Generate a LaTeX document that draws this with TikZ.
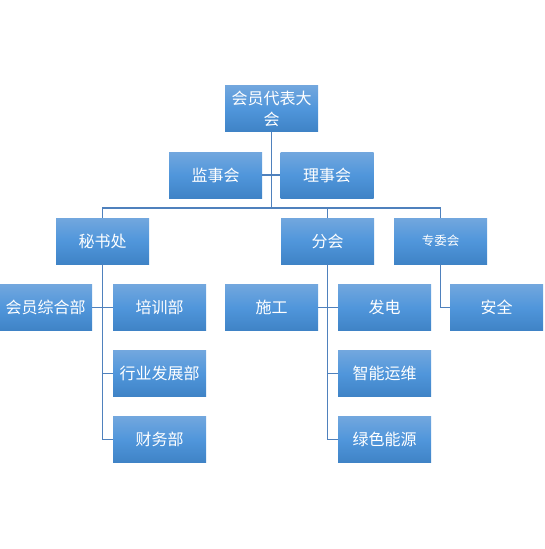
\documentclass[tikz,border=0pt]{standalone}
\usepackage{fontspec}
\newfontfamily\cjk{Noto Sans CJK SC}
\usepackage{xcolor}
\definecolor{boxtop}{HTML}{72A7DE}
\definecolor{boxmid}{HTML}{5096DB}
\definecolor{boxbot}{HTML}{3F83C6}
\definecolor{wire}{HTML}{4F81BD}
\usetikzlibrary{calc}
\tikzset{
  orgbox/.style ={top color=boxtop,bottom color=boxbot,middle color=boxmid,
                  draw=none,text=white,minimum width=93pt,minimum height=46pt,
                  inner sep=0pt,align=center,
                  font=\cjk\fontsize{16}{21}\selectfont},
  smallbox/.style={orgbox,font=\cjk\fontsize{12.5}{15}\selectfont},
  link/.style   ={draw=wire,line width=1.4pt},
}

\begin{document}
\begin{tikzpicture}[x=1pt,y=-1pt]
\useasboundingbox (0,0) rectangle (544,549);
% top level
\node[orgbox] (dh) at (271.5,108.5) {会员代表大\\会};
\node[orgbox] (jsh) at (215.5,175) {监事会};
\node[orgbox] (lsh) at (327,175) {理事会};
% second level
\node[orgbox] (msc) at (102.5,241) {秘书处};
\node[orgbox] (fh) at (327.5,241) {分会};
\node[smallbox] (zwh) at (440.5,241) {专委会};
% secretariat
\node[orgbox] (hyzh) at (45.5,307.5) {会员综合部};
\node[orgbox] (px) at (159.5,307.5) {培训部};
\node[orgbox] (hyfz) at (159.5,373.5) {行业发展部};
\node[orgbox] (cw) at (159.5,439.5) {财务部};
% branches
\node[orgbox] (sg) at (271.5,307.5) {施工};
\node[orgbox] (fd) at (384.5,307.5) {发电};
\node[orgbox] (znyw) at (384.5,373.5) {智能运维};
\node[orgbox] (lsny) at (384.5,439.5) {绿色能源};
% committees
\node[orgbox] (aq) at (496.5,307.5) {安全};
% connectors
\coordinate (bus) at (272,208);
\draw[link] (dh.south) -- (dh.south |- bus);
\draw[link] (jsh.east) -- (lsh.west);
\draw[link] (msc.north) -- (msc.north |- bus) -- (zwh.north |- bus) -- (zwh.north);
\draw[link] (fh.north |- bus) -- (fh.north);
\draw[link] (msc.south) -- (msc.south |- cw.west) -- (cw.west);
\draw[link] (hyzh.east) -- (px.west);
\draw[link] (msc.south |- hyfz.west) -- (hyfz.west);
\draw[link] (fh.south) -- (fh.south |- lsny.west) -- (lsny.west);
\draw[link] (sg.east) -- (fd.west);
\draw[link] (fh.south |- znyw.west) -- (znyw.west);
\draw[link] (zwh.south) -- (zwh.south |- aq.west) -- (aq.west);
\end{tikzpicture}
\end{document}
